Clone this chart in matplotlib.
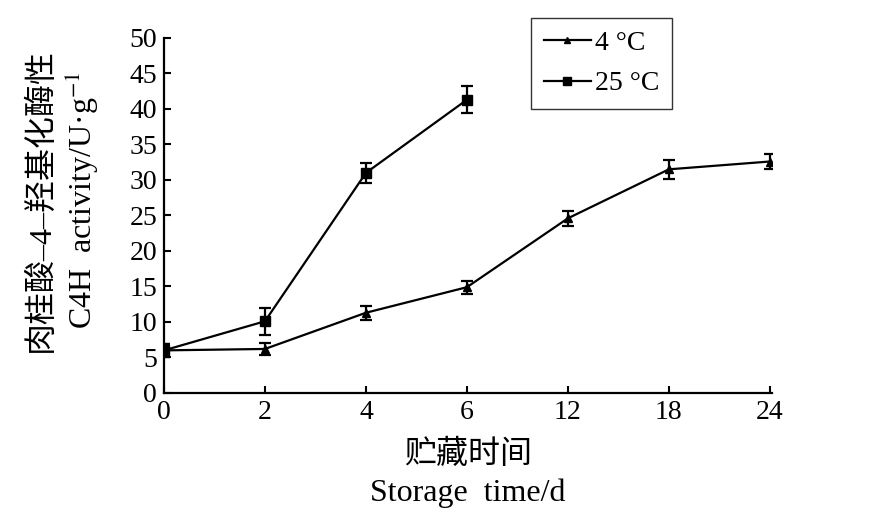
import matplotlib.pyplot as plt
from matplotlib.lines import Line2D
import numpy as np

plt.rcParams['font.family'] = ['Liberation Serif', 'Noto Sans CJK SC']
plt.rcParams['mathtext.fontset'] = 'stix'

days = ['0', '2', '4', '6', '12', '18', '24']
c4 = [6.0, 6.2, 11.3, 14.9, 24.6, 31.5, 32.6]
c4_err = [0.9, 0.9, 1.0, 0.9, 1.1, 1.3, 1.1]
c25 = [6.0, 10.1, 31.0, 41.3]
c25_err = [0.9, 1.9, 1.4, 1.9]

fig = plt.figure(figsize=(8.94, 5.23), dpi=100)
ax = fig.add_axes([0.1834, 0.2486, 0.680, 0.6788])

x = np.arange(len(days))
ax.errorbar(x, c4, yerr=c4_err, color='black', lw=1.6, marker='^', ms=6,
            capsize=4, elinewidth=1.6, capthick=1.6)
ax.errorbar(x[:len(c25)], c25, yerr=c25_err, color='black', lw=1.6, marker='s', ms=7,
            capsize=4, elinewidth=1.6, capthick=1.6)

ax.set_xlim(0, 6.02)
ax.set_ylim(0, 50)
ax.set_xticks(x)
ax.set_xticklabels(days)
ax.set_yticks(np.arange(0, 51, 5))
ax.tick_params(direction='in', length=5, width=1.5, labelsize=20, pad=5)
for s in ['top', 'right']:
    ax.spines[s].set_visible(False)
for s in ['left', 'bottom']:
    ax.spines[s].set_linewidth(1.6)

handles = [Line2D([], [], color='black', lw=1.6, marker='^', ms=5),
           Line2D([], [], color='black', lw=1.6, marker='s', ms=6)]
leg = fig.legend(handles, ['4 °C', '25 °C'], loc='upper left',
                 bbox_to_anchor=(0.594, 0.966), fontsize=20,
                 frameon=True, fancybox=False, edgecolor='black', handlelength=1.7,
                 borderpad=0.45, labelspacing=0.55, handletextpad=0.15, borderaxespad=0)
leg.get_frame().set_linewidth(1.0)

fig.text(0.045, 0.618, '肉桂酸–4–羟基化酶性', rotation=90, ha='center', va='center', fontsize=23)
fig.text(0.091, 0.618, 'C4H  activity/U·g$^{-1}$', rotation=90, ha='center', va='center', fontsize=23)
fig.text(0.523, 0.130, '贮藏时间', ha='center', va='center', fontsize=23)
fig.text(0.523, 0.057, 'Storage  time/d', ha='center', va='center', fontsize=23)

fig.savefig('out.png', dpi=100)
